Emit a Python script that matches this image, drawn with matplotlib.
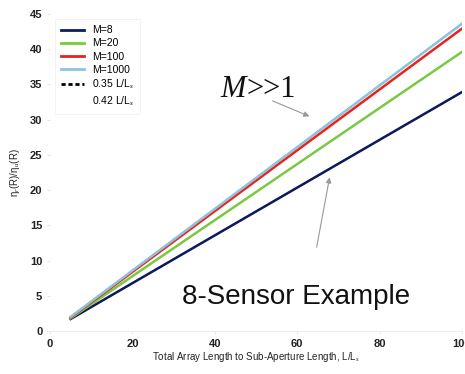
import matplotlib
matplotlib.use("Agg")
import matplotlib.pyplot as plt
from matplotlib.lines import Line2D

# Data (straight lines from L/Ls = 5 to 100)
x_vals = [5, 100]
m8 = [1.7, 33.9]
m20 = [1.8, 39.6]
m100 = [1.9, 42.9]
m1000 = [2.0, 43.6]
ref035 = [1.7, 33.9]
ref042 = [2.0, 43.6]
labels = ["M=8", "M=20", "M=100", "M=1000", "0.35 L/L$_s$", "0.42 L/L$_s$"]
colors = ["#0d1a5e", "#7ac943", "#e8231c", "#8fc3dc"]
xticks = [0, 20, 40, 60, 80, 100]
yticks = [0, 5, 10, 15, 20, 25, 30, 35, 40, 45]

plt.rcParams['font.family'] = ['Liberation Sans', 'DejaVu Sans']
plt.rcParams['mathtext.fontset'] = 'custom'
plt.rcParams['mathtext.it'] = 'Liberation Serif:italic'
plt.rcParams['mathtext.rm'] = 'Liberation Sans'

fig = plt.figure(figsize=(4.65, 3.74), dpi=100)
ax = fig.add_axes([0.1075, 0.115, 0.886, 0.848])

ax.plot(x_vals, ref035, color="black", ls=(0, (2, 1.5)), lw=1.0, zorder=1)
ax.plot(x_vals, ref042, color="black", ls=(0, (2, 1.5)), lw=1.0, zorder=1)
for y, c in zip([m8, m20, m100, m1000], colors):
    ax.plot(x_vals, y, color=c, lw=1.8, zorder=2)

ax.set_xlim(0, 100)
ax.set_ylim(0, 45)
ax.set_xticks(xticks)
ax.set_yticks(yticks)
ax.tick_params(labelsize=8, colors="#dddddd", labelcolor="#222222", length=2, width=0.5)
for lab in ax.get_xticklabels() + ax.get_yticklabels():
    lab.set_fontweight("bold")
for s in ["top", "right", "left"]:
    ax.spines[s].set_visible(False)
ax.spines["bottom"].set_color("#eeeeee")

ax.set_xlabel("Total Array Length to Sub-Aperture Length, L/L$_s$", fontsize=7, labelpad=1, color="#222222")
ax.set_ylabel("\u03b7$_r$(R)/\u03b7$_u$(R)", fontsize=7, labelpad=6, color="#222222")

handles = [Line2D([], [], color=c, lw=2) for c in colors]
handles.append(Line2D([], [], color="black", ls=(0, (1.5, 1)), lw=2))
handles.append(Line2D([], [], color="white", lw=2))
leg = ax.legend(handles, labels, loc="upper left", bbox_to_anchor=(0.0, 1.0),
                fontsize=7.5, frameon=True, handlelength=2.2, handletextpad=0.7,
                labelspacing=0.3, borderpad=0.6, fancybox=False)
leg.get_frame().set_edgecolor("#eeeeee")
leg.get_frame().set_linewidth(0.6)

ax.text(41.3, 33.2, "M", fontsize=22, family="Liberation Serif", style="italic",
        color="#111111", va="baseline")
ax.text(47.6, 33.2, ">>1", fontsize=22, family="Liberation Serif",
        color="#111111", va="baseline")
ax.annotate("", xy=(63.6, 30.3), xytext=(53.4, 32.8),
            arrowprops=dict(arrowstyle="-|>", color="#999999", lw=0.8, mutation_scale=8))
ax.annotate("", xy=(68.0, 22.2), xytext=(64.6, 11.5),
            arrowprops=dict(arrowstyle="-|>", color="#999999", lw=0.8, mutation_scale=8))
ax.text(32.0, 3.8, "8-Sensor Example", fontsize=20, color="#111111", va="baseline")

fig.savefig("out.png", dpi=100)
